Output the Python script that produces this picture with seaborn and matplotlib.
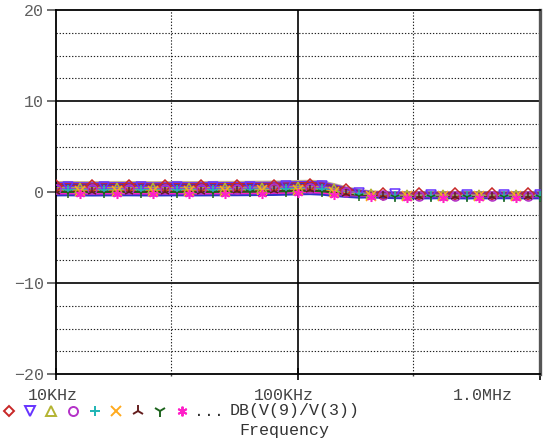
import numpy as np
import pandas as pd
import matplotlib
matplotlib.use("Agg")
import matplotlib.pyplot as plt
from matplotlib.lines import Line2D
import seaborn as sns

# Frequency points of the AC sweep (kHz), 20 points per decade
freq_khz = [10, 11.2, 12.6, 14.1, 15.8, 17.8, 20, 22.4, 25.1, 28.2,
            31.6, 35.5, 39.8, 44.7, 50.1, 56.2, 63.1, 70.8, 79.4, 89.1,
            100, 112, 126, 141, 158, 178, 200, 224, 251, 282,
            316, 355, 398, 447, 501, 562, 631, 708, 794, 891, 1000]

# Gain DB(V(9)/V(3)) for each Monte Carlo run
run01 = [1.10, 1.11, 1.10, 1.09, 1.10, 1.11, 1.11, 1.10, 1.09, 1.10, 1.11, 1.10, 1.10, 1.11, 1.12, 1.12, 1.13, 1.14,
         1.15, 1.18, 1.22, 1.24, 1.18, .88, .54, .26, .08, .03, .00,
         -.02, -.03, -.02, -.01, -.02, -.03, -.02, -.02, -.01, -.02, -.03, -.02]
run02 = [.98, .99, .98, .97, .98, .99, .99, .98, .97, .98, .99, .98, .98, .99, 1.00, 1.00, 1.01, 1.02,
         1.03, 1.06, 1.10, 1.12, 1.06, .77, .45, .19, .02, -.03, -.06,
         -.08, -.09, -.08, -.07, -.08, -.09, -.08, -.08, -.07, -.08, -.09, -.08]
run03 = [.86, .87, .86, .85, .86, .87, .87, .86, .85, .86, .87, .86, .86, .87, .88, .88, .89, .90,
         .91, .94, .98, 1.00, .94, .66, .36, .11, -.04, -.09, -.12,
         -.14, -.15, -.14, -.13, -.14, -.15, -.14, -.14, -.13, -.14, -.15, -.14]
run04 = [.75, .76, .75, .74, .75, .76, .76, .75, .74, .75, .76, .75, .75, .76, .77, .77, .78, .79,
         .80, .83, .87, .89, .83, .56, .28, .05, -.09, -.14, -.17,
         -.19, -.20, -.19, -.18, -.19, -.20, -.19, -.19, -.18, -.19, -.20, -.19]
run05 = [.64, .65, .64, .63, .64, .65, .65, .64, .63, .64, .65, .64, .64, .65, .66, .66, .67, .68,
         .69, .72, .76, .78, .72, .46, .20, -.02, -.14, -.19, -.22,
         -.24, -.25, -.24, -.23, -.24, -.25, -.24, -.24, -.23, -.24, -.25, -.24]
run06 = [.54, .55, .54, .53, .54, .55, .55, .54, .53, .54, .55, .54, .54, .55, .56, .56, .57, .58,
         .59, .62, .66, .68, .62, .37, .13, -.08, -.19, -.24, -.27,
         -.29, -.30, -.29, -.28, -.29, -.30, -.29, -.29, -.28, -.29, -.30, -.29]
run07 = [.44, .45, .44, .43, .44, .45, .45, .44, .43, .44, .45, .44, .44, .45, .46, .46, .47, .48,
         .49, .52, .56, .58, .52, .28, .05, -.15, -.24, -.29, -.32,
         -.34, -.35, -.34, -.33, -.34, -.35, -.34, -.34, -.33, -.34, -.35, -.34]
run08 = [.34, .35, .34, .33, .34, .35, .35, .34, .33, .34, .35, .34, .34, .35, .36, .36, .37, .38,
         .39, .42, .46, .48, .42, .19, -.03, -.21, -.29, -.34, -.37,
         -.39, -.40, -.39, -.38, -.39, -.40, -.39, -.39, -.38, -.39, -.40, -.39]
run09 = [.24, .25, .24, .23, .24, .25, .25, .24, .23, .24, .25, .24, .24, .25, .26, .26, .27, .28,
         .29, .32, .36, .38, .32, .10, -.10, -.27, -.34, -.39, -.42,
         -.44, -.45, -.44, -.43, -.44, -.45, -.44, -.44, -.43, -.44, -.45, -.44]
run10 = [.14, .15, .14, .13, .14, .15, .15, .14, .13, .14, .15, .14, .14, .15, .16, .16, .17, .18,
         .19, .22, .26, .28, .22, .01, -.18, -.33, -.39, -.44, -.47,
         -.49, -.50, -.49, -.48, -.49, -.50, -.49, -.49, -.48, -.49, -.50, -.49]
run11 = [.04, .05, .04, .03, .04, .05, .05, .04, .03, .04, .05, .04, .04, .05, .06, .06, .07, .08,
         .09, .12, .16, .18, .12, -.08, -.25, -.40, -.44, -.49, -.52,
         -.54, -.55, -.54, -.53, -.54, -.55, -.54, -.54, -.53, -.54, -.55, -.54]
run12 = [-.08, -.07, -.08, -.09, -.08, -.07, -.07, -.08, -.09, -.08, -.07, -.08, -.08, -.07, -.06, -.06, -.05, -.04,
         -.03, .00, .04, .06, .00, -.18, -.34, -.46, -.49, -.54, -.57,
         -.59, -.60, -.59, -.58, -.59, -.60, -.59, -.59, -.58, -.59, -.60, -.59]
run13 = [-.22, -.21, -.22, -.23, -.22, -.21, -.21, -.22, -.23, -.22, -.21, -.22, -.22, -.21, -.20, -.20, -.19, -.18,
         -.17, -.14, -.10, -.08, -.14, -.30, -.43, -.54, -.54, -.59, -.62,
         -.64, -.65, -.64, -.63, -.64, -.65, -.64, -.64, -.63, -.64, -.65, -.64]
run14 = [-.38, -.37, -.38, -.39, -.38, -.37, -.37, -.38, -.39, -.38, -.37, -.38, -.38, -.37, -.36, -.36, -.35, -.34,
         -.33, -.30, -.26, -.24, -.30, -.44, -.54, -.62, -.60, -.65, -.68,
         -.70, -.71, -.70, -.69, -.70, -.71, -.70, -.70, -.69, -.70, -.71, -.70]
runs = [run01, run02, run03, run04, run05, run06, run07,
        run08, run09, run10, run11, run12, run13, run14]

trace_colors = ['#c8b48c', '#6633ff', '#c82828', '#3232c8', '#c82828', '#6633ff', '#b4b432',
                '#b432c8', '#1eb4b4', '#ffaa1e', '#641e1e', '#1e641e', '#ff1ec8', '#3232c8']
# symbol carried by each run (None: plain trace)
trace_markers = [None, None, None, None, 'D', 'v', '^',
                 'o', '+', 'x', '2', '1', (6, 2, 0), None]

y_ticks = [20, 10, 0, -10, -20]
y_tick_labels = ['20', '10', '0', '\u221210', '\u221220']
x_tick_labels = ['10KHz', '100KHz', '1.0MHz']
trace_name = 'DB(V(9)/V(3))'
x_title = 'Frequency'

sns.set_style('white')
mono = ['Liberation Mono', 'DejaVu Sans Mono']
plt.rcParams['font.family'] = mono

W, H = 547, 441
fig = plt.figure(figsize=(W / 100, H / 100), dpi=100)
ax = fig.add_axes([56 / W, 1 - 374 / H, (540 - 56) / W, (374 - 10) / H])

rows = []
for i, vals in enumerate(runs):
    for f, v in zip(freq_khz, vals):
        rows.append({'freq': f * 1e3, 'db': v, 'run': f'run{i + 1:02d}'})
df = pd.DataFrame(rows)
run_names = [f'run{i + 1:02d}' for i in range(len(runs))]

ax.set_xscale('log')

# grid: dotted minor divisions, solid major divisions
for yv in np.arange(-17.5, 20, 2.5):
    if yv % 10 != 0:
        ax.axhline(yv, color='#222222', lw=0.8, ls=(0, (1.2, 1.6)), zorder=0)
for yv in (10, 0, -10):
    ax.axhline(yv, color='black', lw=1.2, zorder=0)
for xv in (3e4, 3e5):
    ax.axvline(xv, color='#222222', lw=0.8, ls=(0, (1.2, 1.6)), zorder=0)
ax.axvline(1e5, color='black', lw=1.2, zorder=0)

# pass 1: the traces
sns.lineplot(data=df, x='freq', y='db', hue='run', hue_order=run_names,
             palette=trace_colors, errorbar=None, legend=False, lw=1.4,
             ax=ax, sort=True, zorder=2)

# pass 2: the trace symbols, drawn above every trace
sym_runs = [n for n, m in zip(run_names, trace_markers) if m is not None]
sym_colors = [c for c, m in zip(trace_colors, trace_markers) if m is not None]
sym_markers = [m for m in trace_markers if m is not None]
n_before = len(ax.get_lines())
sns.lineplot(data=df[df['run'].isin(sym_runs)], x='freq', y='db', hue='run',
             hue_order=sym_runs, palette=sym_colors, errorbar=None, legend=False,
             linestyle='none', ax=ax, sort=True, zorder=3)
for k, line in enumerate(ax.get_lines()[n_before:]):
    line.set_marker(sym_markers[k])
    line.set_markersize(6.5)
    line.set_markerfacecolor('none')
    line.set_markeredgecolor(sym_colors[k])
    line.set_markeredgewidth(1.1)
    line.set_markevery((k % 3, 3))

ax.set_xlim(1e4, 1e6)
ax.set_ylim(-20, 20)
ax.set_xlabel('')
ax.set_ylabel('')

ax.set_yticks(y_ticks)
ax.set_yticklabels(y_tick_labels, fontsize=12, color='#606060')
ax.tick_params(axis='y', direction='out', length=6.5, width=1.2, color='#555555', pad=2, left=True)
ax.set_xticks([1e4, 1e5, 1e6])
ax.set_xticklabels([])
ax.xaxis.set_minor_locator(matplotlib.ticker.FixedLocator([3e4, 3e5]))
ax.xaxis.set_minor_formatter(matplotlib.ticker.NullFormatter())
ax.tick_params(axis='x', which='major', direction='inout', length=9, width=1.2, color='black', bottom=True)
ax.tick_params(axis='x', which='minor', direction='out', length=1.5, width=1, color='#444444', bottom=True)

for side in ('left', 'bottom', 'top'):
    ax.spines[side].set_color('black')
    ax.spines[side].set_linewidth(1.3)
ax.spines['right'].set_color('#555555')
ax.spines['right'].set_linewidth(2.4)

# frequency decade labels
for xpix, lab in zip([53, 284, 483], x_tick_labels):
    fig.text(xpix / W, 1 - 395 / H, lab, ha='center', va='center',
             fontsize=12, color='#444444')

# trace legend row
legend_sizes = [5.5, 6.5, 6.5, 6.5, 7, 6.5, 9, 9, 7]
for xpix, c, m, ms in zip([9, 30, 51, 73, 95, 116, 138, 160, 182], sym_colors,
                          sym_markers, legend_sizes):
    fig.add_artist(Line2D([xpix / W], [1 - 411 / H], transform=fig.transFigure,
                          marker=m, markersize=ms, markerfacecolor='none',
                          markeredgecolor=c, markeredgewidth=1.4, linestyle='none'))
fig.text(194 / W, 1 - 411 / H, '...', ha='left', va='center', fontsize=12, color='#333333')
fig.text(230 / W, 1 - 411 / H, trace_name, ha='left', va='center', fontsize=12, color='#333333')
fig.text(284 / W, 1 - 431 / H, x_title, ha='center', va='center', fontsize=12, color='#333333')

fig.savefig('out.png', dpi=100, facecolor='white')
